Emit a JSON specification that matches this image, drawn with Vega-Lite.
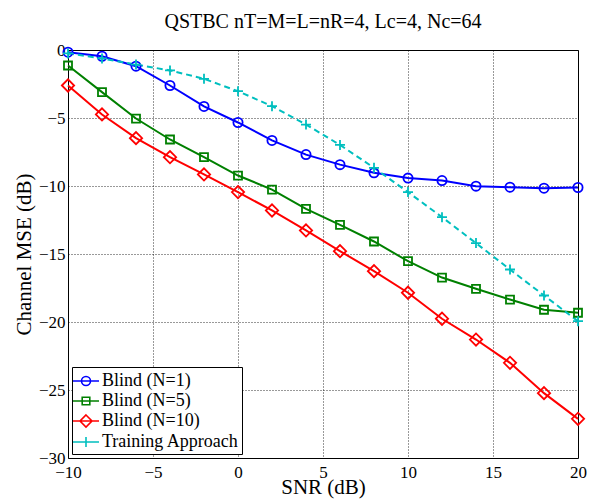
{
  "$schema": "https://vega.github.io/schema/vega-lite/v6.json",
  "width": 510,
  "height": 408,
  "autosize": {"type": "none"},
  "padding": {"left": 68, "top": 50, "right": 19, "bottom": 42},
  "background": "white",
  "title": {
    "text": "QSTBC nT=M=L=nR=4, Lc=4, Nc=64",
    "font": "Liberation Serif",
    "fontSize": 20,
    "fontWeight": "normal",
    "color": "black",
    "anchor": "middle",
    "offset": 9
  },
  "config": {
    "view": {"stroke": "black", "strokeWidth": 1},
    "axis": {
      "labelFont": "Liberation Serif",
      "titleFont": "Liberation Serif",
      "labelFontSize": 17,
      "titleFontSize": 21,
      "titleFontWeight": "normal",
      "labelColor": "black",
      "titleColor": "black",
      "grid": true,
      "gridColor": "black",
      "gridDash": [1, 2],
      "gridOpacity": 0.8,
      "gridWidth": 1,
      "ticks": false,
      "domain": false,
      "labelOverlap": false
    }
  },
  "data": {
    "values": [
      {"snr": -10, "mse": -0.16, "series": "Blind (N=1)"},
      {"snr": -8, "mse": -0.46, "series": "Blind (N=1)"},
      {"snr": -6, "mse": -1.19, "series": "Blind (N=1)"},
      {"snr": -4, "mse": -2.61, "series": "Blind (N=1)"},
      {"snr": -2, "mse": -4.15, "series": "Blind (N=1)"},
      {"snr": 0, "mse": -5.33, "series": "Blind (N=1)"},
      {"snr": 2, "mse": -6.65, "series": "Blind (N=1)"},
      {"snr": 4, "mse": -7.69, "series": "Blind (N=1)"},
      {"snr": 6, "mse": -8.43, "series": "Blind (N=1)"},
      {"snr": 8, "mse": -9.03, "series": "Blind (N=1)"},
      {"snr": 10, "mse": -9.42, "series": "Blind (N=1)"},
      {"snr": 12, "mse": -9.6, "series": "Blind (N=1)"},
      {"snr": 14, "mse": -10.01, "series": "Blind (N=1)"},
      {"snr": 16, "mse": -10.09, "series": "Blind (N=1)"},
      {"snr": 18, "mse": -10.16, "series": "Blind (N=1)"},
      {"snr": 20, "mse": -10.11, "series": "Blind (N=1)"},

      {"snr": -10, "mse": -1.14, "series": "Blind (N=5)"},
      {"snr": -8, "mse": -3.1, "series": "Blind (N=5)"},
      {"snr": -6, "mse": -5.04, "series": "Blind (N=5)"},
      {"snr": -4, "mse": -6.58, "series": "Blind (N=5)"},
      {"snr": -2, "mse": -7.88, "series": "Blind (N=5)"},
      {"snr": 0, "mse": -9.23, "series": "Blind (N=5)"},
      {"snr": 2, "mse": -10.26, "series": "Blind (N=5)"},
      {"snr": 4, "mse": -11.68, "series": "Blind (N=5)"},
      {"snr": 6, "mse": -12.86, "series": "Blind (N=5)"},
      {"snr": 8, "mse": -14.08, "series": "Blind (N=5)"},
      {"snr": 10, "mse": -15.53, "series": "Blind (N=5)"},
      {"snr": 12, "mse": -16.73, "series": "Blind (N=5)"},
      {"snr": 14, "mse": -17.56, "series": "Blind (N=5)"},
      {"snr": 16, "mse": -18.35, "series": "Blind (N=5)"},
      {"snr": 18, "mse": -19.1, "series": "Blind (N=5)"},
      {"snr": 20, "mse": -19.32, "series": "Blind (N=5)"},

      {"snr": -10, "mse": -2.61, "series": "Blind (N=10)"},
      {"snr": -8, "mse": -4.74, "series": "Blind (N=10)"},
      {"snr": -6, "mse": -6.48, "series": "Blind (N=10)"},
      {"snr": -4, "mse": -7.88, "series": "Blind (N=10)"},
      {"snr": -2, "mse": -9.15, "series": "Blind (N=10)"},
      {"snr": 0, "mse": -10.45, "series": "Blind (N=10)"},
      {"snr": 2, "mse": -11.8, "series": "Blind (N=10)"},
      {"snr": 4, "mse": -13.27, "series": "Blind (N=10)"},
      {"snr": 6, "mse": -14.79, "series": "Blind (N=10)"},
      {"snr": 8, "mse": -16.26, "series": "Blind (N=10)"},
      {"snr": 10, "mse": -17.85, "series": "Blind (N=10)"},
      {"snr": 12, "mse": -19.76, "series": "Blind (N=10)"},
      {"snr": 14, "mse": -21.29, "series": "Blind (N=10)"},
      {"snr": 16, "mse": -23.0, "series": "Blind (N=10)"},
      {"snr": 18, "mse": -25.23, "series": "Blind (N=10)"},
      {"snr": 20, "mse": -27.12, "series": "Blind (N=10)"},

      {"snr": -10, "mse": -0.25, "series": "Training Approach"},
      {"snr": -8, "mse": -0.62, "series": "Training Approach"},
      {"snr": -6, "mse": -1.07, "series": "Training Approach"},
      {"snr": -4, "mse": -1.5, "series": "Training Approach"},
      {"snr": -2, "mse": -2.12, "series": "Training Approach"},
      {"snr": 0, "mse": -3.03, "series": "Training Approach"},
      {"snr": 2, "mse": -4.13, "series": "Training Approach"},
      {"snr": 4, "mse": -5.48, "series": "Training Approach"},
      {"snr": 6, "mse": -6.98, "series": "Training Approach"},
      {"snr": 8, "mse": -8.66, "series": "Training Approach"},
      {"snr": 10, "mse": -10.45, "series": "Training Approach"},
      {"snr": 12, "mse": -12.29, "series": "Training Approach"},
      {"snr": 14, "mse": -14.2, "series": "Training Approach"},
      {"snr": 16, "mse": -16.14, "series": "Training Approach"},
      {"snr": 18, "mse": -18.05, "series": "Training Approach"},
      {"snr": 20, "mse": -19.94, "series": "Training Approach"}
    ]
  },
  "encoding": {
    "x": {
      "field": "snr",
      "type": "quantitative",
      "title": "SNR (dB)",
      "scale": {"domain": [-10, 20], "nice": false, "zero": false},
      "axis": {"values": [-10, -5, 0, 5, 10, 15, 20], "labelFlush": false, "labelPadding": 6, "titlePadding": -4}
    },
    "y": {
      "field": "mse",
      "type": "quantitative",
      "title": "Channel MSE (dB)",
      "scale": {"domain": [-30, 0], "nice": false, "zero": false},
      "axis": {"values": [-30, -25, -20, -15, -10, -5, 0], "labelPadding": 3, "titlePadding": 4}
    },
    "color": {
      "field": "series",
      "type": "nominal",
      "scale": {
        "domain": ["Blind (N=1)", "Blind (N=5)", "Blind (N=10)", "Training Approach"],
        "range": ["#0000ff", "#008000", "#ff0000", "#00bfbf"]
      },
      "legend": null
    }
  },
  "layer": [
    {
      "transform": [{"filter": "datum.series != 'Training Approach'"}],
      "mark": {"type": "line", "strokeWidth": 2},
      "encoding": {
        "color": {
          "field": "series",
          "type": "nominal",
          "scale": {
            "domain": ["Blind (N=1)", "Blind (N=5)", "Blind (N=10)", "Training Approach"],
            "range": ["#0000ff", "#008000", "#ff0000", "#00bfbf"]
          },
          "legend": {
            "title": null,
            "orient": "bottom-left",
            "offset": 4,
            "padding": 3,
            "rowPadding": 0,
            "strokeColor": "black",
            "fillColor": "white",
            "labelFont": "Liberation Serif",
            "labelFontSize": 18,
            "labelColor": "black",
            "labelOffset": 5,
            "symbolSize": 400,
            "symbolStrokeWidth": 1.6,
            "symbolFillColor": "transparent",
            "encode": {
              "symbols": {
                "update": {
                  "shape": {"signal": "datum.value == 'Blind (N=1)' ? 'M-1.3,0H1.3M0.45,0A0.45,0.45,0,1,1,-0.45,0A0.45,0.45,0,1,1,0.45,0' : datum.value == 'Blind (N=5)' ? 'M-1.3,0H1.3M-0.38,-0.38H0.38V0.38H-0.38Z' : datum.value == 'Blind (N=10)' ? 'M-1.3,0H1.3M0,-0.6L0.6,0L0,0.6L-0.6,0Z' : 'M-1.3,0H1.3M0,-0.5V0.5'"},
                  "fill": {"value": "transparent"}
                }
              }
            }
          }
        }
      }
    },
    {
      "transform": [{"filter": "datum.series == 'Training Approach'"}],
      "mark": {"type": "line", "strokeWidth": 2, "strokeDash": [6, 4]}
    },
    {
      "transform": [{"filter": "datum.series == 'Blind (N=1)'"}],
      "mark": {"type": "point", "shape": "circle", "size": 85, "filled": false, "strokeWidth": 1.8, "opacity": 1}
    },
    {
      "transform": [{"filter": "datum.series == 'Blind (N=5)'"}],
      "mark": {"type": "point", "shape": "square", "size": 64, "filled": false, "strokeWidth": 1.8, "opacity": 1}
    },
    {
      "transform": [{"filter": "datum.series == 'Blind (N=10)'"}],
      "mark": {"type": "point", "shape": "diamond", "size": 150, "filled": false, "strokeWidth": 1.8, "opacity": 1}
    },
    {
      "transform": [{"filter": "datum.series == 'Training Approach'"}],
      "mark": {"type": "point", "shape": "M-1,0H1M0,-1V1", "size": 100, "filled": false, "strokeWidth": 1.8, "opacity": 1}
    }
  ]
}
